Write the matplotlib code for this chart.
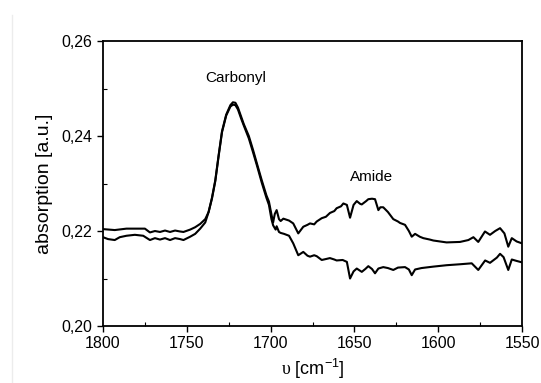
import matplotlib
matplotlib.use("Agg")
import matplotlib.pyplot as plt
from matplotlib.ticker import MultipleLocator, FuncFormatter
from matplotlib.lines import Line2D

plt.rcParams['font.family'] = ['Liberation Sans', 'DejaVu Sans']
plt.rcParams['mathtext.fontset'] = 'custom'
plt.rcParams['mathtext.rm'] = 'Liberation Sans'
plt.rcParams['mathtext.sf'] = 'Liberation Serif'

# =============================
# DATA
# =============================
wn_amide = [1800, 1793, 1786, 1780, 1775, 1772, 1769, 1766, 1763, 1760, 1757,
            1754, 1752, 1748, 1745, 1742, 1739, 1737, 1735, 1733, 1731, 1729,
            1726.5, 1724, 1722.5, 1721, 1719.5, 1717.5, 1716, 1713, 1710.5,
            1708, 1705.3, 1702.5, 1701, 1699.5, 1698.5, 1697.5, 1696.4, 1695,
            1694, 1692.4, 1689, 1686.5, 1683.5, 1680.5, 1678, 1676.5, 1674,
            1672.5, 1669.5, 1667, 1664.6, 1662, 1660.6, 1658, 1656.6, 1654.5,
            1652.6, 1650.5, 1648.6, 1646.5, 1645.6, 1643, 1641.7, 1639.5,
            1637.7, 1635.7, 1634.5, 1632.8, 1630, 1626.8, 1624, 1622.8, 1619.8,
            1617.5, 1615.8, 1613.8, 1611, 1608.9, 1605, 1602.9, 1595, 1587,
            1582, 1579, 1576.1, 1572.1, 1569.1, 1566, 1563.1, 1560.5, 1558.2,
            1556.1, 1553.2, 1550]
abs_amide = [0.2204, 0.2202, 0.2205, 0.2205, 0.2205, 0.2197, 0.2200, 0.2198,
             0.2201, 0.2198, 0.2201, 0.2199, 0.2198, 0.2203, 0.2208, 0.2215,
             0.2225, 0.2240, 0.2270, 0.2307, 0.2360, 0.2410, 0.2445, 0.2465,
             0.2471, 0.2470, 0.2460, 0.2440, 0.2425, 0.2400, 0.2371, 0.2340,
             0.2307, 0.2275, 0.2262, 0.2235, 0.2218, 0.2236, 0.2244, 0.2225,
             0.2221, 0.2226, 0.2222, 0.2216, 0.2195, 0.2209, 0.2213, 0.2216,
             0.2214, 0.2220, 0.2227, 0.2230, 0.2238, 0.2242, 0.2248, 0.2252,
             0.2258, 0.2255, 0.2228, 0.2255, 0.2263, 0.2257, 0.2256, 0.2263,
             0.2267, 0.2268, 0.2267, 0.2244, 0.2250, 0.2250, 0.2240, 0.2225,
             0.2220, 0.2217, 0.2213, 0.2200, 0.2188, 0.2194, 0.2188, 0.2185,
             0.2182, 0.2180, 0.2176, 0.2177, 0.2181, 0.2187, 0.2177, 0.2199,
             0.2192, 0.2200, 0.2206, 0.2195, 0.2167, 0.2185, 0.2178, 0.2174]

wn_plain = [1800, 1797, 1793, 1790, 1786, 1781, 1776, 1772, 1769, 1766, 1763,
            1760, 1757, 1754, 1752, 1748, 1745, 1742, 1739, 1737, 1735, 1733,
            1731, 1729, 1726.5, 1724, 1722.5, 1721, 1719.5, 1717.5, 1716, 1713,
            1710.5, 1708, 1705.3, 1702.5, 1701, 1699.5, 1698.5, 1697, 1696.4,
            1695, 1694, 1692, 1689, 1686.5, 1683.5, 1680.5, 1678, 1676.5, 1674,
            1672.5, 1669.5, 1667, 1664.6, 1662, 1660.6, 1657, 1654.5, 1652.6,
            1650.5, 1648.6, 1645.6, 1643.5, 1641.7, 1639.5, 1637.7, 1635.7,
            1632.8, 1630, 1626.8, 1624, 1619.8, 1617.5, 1615.8, 1613.8, 1610,
            1603, 1595, 1587, 1580, 1576.1, 1572, 1569.1, 1565, 1563.1, 1561,
            1558.2, 1556.1, 1553.2, 1550]
abs_plain = [0.2187, 0.2183, 0.2181, 0.2187, 0.2190, 0.2192, 0.2190, 0.2181,
             0.2185, 0.2182, 0.2185, 0.2181, 0.2185, 0.2183, 0.2181, 0.2188,
             0.2194, 0.2205, 0.2218, 0.2240, 0.2268, 0.2305, 0.2358, 0.2408,
             0.2443, 0.2462, 0.2466, 0.2465, 0.2456, 0.2436, 0.2422, 0.2395,
             0.2366, 0.2336, 0.2302, 0.2270, 0.2255, 0.2225, 0.2212, 0.2203,
             0.2210, 0.2198, 0.2196, 0.2194, 0.2190, 0.2174, 0.2149, 0.2156,
             0.2148, 0.2146, 0.2149, 0.2147, 0.2139, 0.2141, 0.2143, 0.2140,
             0.2138, 0.2139, 0.2135, 0.2100, 0.2115, 0.2121, 0.2114, 0.2120,
             0.2126, 0.2120, 0.2111, 0.2121, 0.2124, 0.2122, 0.2118, 0.2123,
             0.2124, 0.2119, 0.2107, 0.2119, 0.2122, 0.2125, 0.2128, 0.2130,
             0.2132, 0.2118, 0.2138, 0.2133, 0.2144, 0.2152, 0.2145, 0.2118,
             0.2140, 0.2137, 0.2134]

# =============================
# FIGURE
# =============================
fig = plt.figure(figsize=(5.41, 3.83), dpi=100)
ax = fig.add_axes([0.1904, 0.1488, 0.7745, 0.7441])

ax.plot(wn_amide, abs_amide, color='black', lw=1.5)
ax.plot(wn_plain, abs_plain, color='black', lw=1.5)

ax.set_xlim(1800, 1550)
ax.set_ylim(0.20, 0.26)

ax.xaxis.set_major_locator(MultipleLocator(50))
ax.xaxis.set_minor_locator(MultipleLocator(25))
ax.yaxis.set_major_locator(MultipleLocator(0.02))
ax.yaxis.set_minor_locator(MultipleLocator(0.01))
ax.yaxis.set_major_formatter(FuncFormatter(lambda v, p: f"{v:.2f}".replace('.', ',')))

ax.tick_params(which='major', direction='out', length=4, width=1, labelsize=11.5)
ax.tick_params(which='minor', direction='in', length=3, width=0.8)
ax.tick_params(top=False, right=False)

for side in ['left', 'bottom', 'top', 'right']:
    ax.spines[side].set_linewidth(1.3)

ax.set_xlabel(r"$\mathsf{υ}$ [cm$^{\mathregular{-1}}$]", fontsize=13, labelpad=4)
ax.set_ylabel("absorption [a.u.]", fontsize=14, labelpad=6)

ax.text(1721, 0.2522, "Carbonyl", fontsize=11, ha='center', va='center')
ax.text(1639.5, 0.2314, "Amide", fontsize=11, ha='center', va='center')

# faint scan border at the left edge
fig.add_artist(Line2D([0.022, 0.022], [0.0, 0.96], color='#ececec', lw=1,
                      transform=fig.transFigure))

fig.savefig("out.png", dpi=100)
